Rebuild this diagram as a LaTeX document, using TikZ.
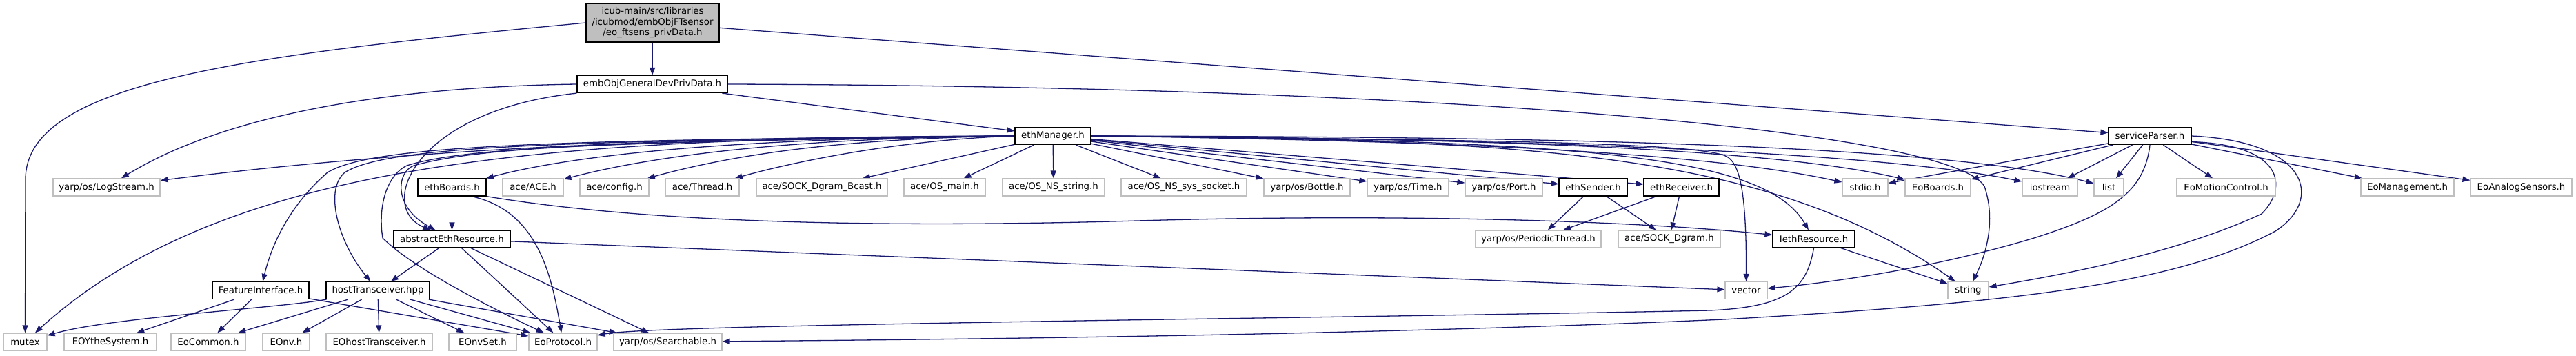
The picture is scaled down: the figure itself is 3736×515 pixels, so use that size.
\documentclass[tikz,border=0pt]{standalone}
\usepackage{fontspec}
\setmainfont{DejaVu Sans}
\usepackage{tikz}
\usetikzlibrary{arrows.meta, backgrounds, calc}
\definecolor{edgeblue}{HTML}{191970}
\definecolor{boxgray}{HTML}{BFBFBF}
\tikzstyle{ext}=[draw=boxgray, fill=white, line width=1.2pt, minimum height=25pt, inner sep=0pt, font=\fontsize{13.3}{15.5}\selectfont]
\tikzstyle{doc}=[ext, draw=black]
\tikzstyle{dep}=[->, draw=edgeblue, line width=1.3pt]
\tikzset{>={Triangle[length=11pt, width=8pt]}}

\begin{document}
\begin{tikzpicture}[x=1pt, y=-1pt]
\useasboundingbox (0,0) rectangle (3736,515);
% the file itself and the headers it pulls in first
\node[doc, fill=boxgray, minimum width=193, minimum height=56, align=center] (root) at (946.5,33) {icub-main/src/libraries\\/icubmod/embObjFTsensor\\/eo\_ftsens\_privData.h};
\node[doc, minimum width=218] (gendata) at (946,122) {embObjGeneralDevPrivData.h};
\node[doc, minimum width=110] (ethmgr) at (1527,197) {ethManager.h};
\node[doc, minimum width=120] (svcparser) at (3118,197) {serviceParser.h};
% the long row of includes
\node[ext, minimum width=155] (logstream) at (154.5,271.5) {yarp/os/LogStream.h};
\node[doc, minimum width=99] (ethboards) at (655.5,271.5) {ethBoards.h};
\node[ext, minimum width=88] (aceace) at (773,271.5) {ace/ACE.h};
\node[ext, minimum width=100] (aceconfig) at (891,271.5) {ace/config.h};
\node[ext, minimum width=107] (acethread) at (1018.5,271.5) {ace/Thread.h};
\node[ext, minimum width=190] (acebcast) at (1192,271.5) {ace/SOCK\_Dgram\_Bcast.h};
\node[ext, minimum width=118] (aceosmain) at (1370,271.5) {ace/OS\_main.h};
\node[ext, minimum width=148] (aceosstr) at (1528,271.5) {ace/OS\_NS\_string.h};
\node[ext, minimum width=182] (aceossock) at (1717,271.5) {ace/OS\_NS\_sys\_socket.h};
\node[ext, minimum width=125] (yarpbottle) at (1895.5,271.5) {yarp/os/Bottle.h};
\node[ext, minimum width=118] (yarptime) at (2042,271.5) {yarp/os/Time.h};
\node[ext, minimum width=112] (yarpport) at (2181,271.5) {yarp/os/Port.h};
\node[doc, minimum width=99] (ethsender) at (2310.5,271.5) {ethSender.h};
\node[doc, minimum width=109] (ethrecv) at (2438.5,271.5) {ethReceiver.h};
\node[ext, minimum width=66] (stdio) at (2705,271.5) {stdio.h};
\node[ext, minimum width=95] (eoboards) at (2810.5,271.5) {EoBoards.h};
\node[ext, minimum width=80] (iostream) at (2973,271.5) {iostream};
\node[ext, minimum width=43] (list) at (3058.5,271.5) {list};
\node[ext, minimum width=143] (eomotion) at (3228.5,271.5) {EoMotionControl.h};
\node[ext, minimum width=135] (eomgmt) at (3491.5,271.5) {EoManagement.h};
\node[ext, minimum width=147] (eoanalog) at (3656.5,271.5) {EoAnalogSensors.h};
% third row
\node[doc, minimum width=169] (abstract) at (655.5,346.5) {abstractEthResource.h};
\node[ext, minimum width=182] (periodic) at (2231,346.5) {yarp/os/PeriodicThread.h};
\node[ext, minimum width=148] (sockdgram) at (2421,346.5) {ace/SOCK\_Dgram.h};
\node[doc, minimum width=119] (iethres) at (2630.5,346.5) {IethResource.h};
% fourth row
\node[doc, minimum width=140] (featiface) at (378,421) {FeatureInterface.h};
\node[doc, minimum width=150] (hosttrx) at (548,421) {hostTransceiver.hpp};
\node[ext, minimum width=61] (vector) at (2532.5,421) {vector};
\node[ext, minimum width=59] (string) at (2854.5,421) {string};
% bottom row
\node[ext, minimum width=63] (mutex) at (36.5,495.5) {mutex};
\node[ext, minimum width=134] (eoythe) at (160,495.5) {EOYtheSystem.h};
\node[ext, minimum width=108] (eocommon) at (302,495.5) {EoCommon.h};
\node[ext, minimum width=68] (eonv) at (415,495.5) {EOnv.h};
\node[ext, minimum width=154] (eohost) at (550,495.5) {EOhostTransceiver.h};
\node[ext, minimum width=98] (eonvset) at (700,495.5) {EOnvSet.h};
\node[ext, minimum width=99] (eoproto) at (816.5,495.5) {EoProtocol.h};
\node[ext, minimum width=157] (searchable) at (968.5,495.5) {yarp/os/Searchable.h};
\begin{scope}[on background layer]
% the file itself
\draw[dep] (root) -- (gendata);
\draw[dep] (root.west) .. controls (350,80) and (37,120) .. (37,260) -- (mutex);
\draw[dep] (root) -- (svcparser);
% embObjGeneralDevPrivData.h
\draw[dep] (gendata) -- (ethmgr);
\draw[dep] (gendata.west) .. controls (550,126) and (320,170) .. (logstream);
\draw[dep] (gendata.south west) .. controls (600,160) and (545,300) .. (abstract);
\draw[dep] (gendata.east) .. controls (2100,125) and (2830,190) .. (2878,270) .. controls (2895,320) and (2880,370) .. (string);
% ethManager.h, to the left
\draw[dep] (ethmgr.west) .. controls (1000,198) and (600,215) .. (logstream);
\draw[dep] (ethmgr.west) .. controls (800,200) and (330,230) .. (mutex);
\draw[dep] (ethmgr.west) .. controls (800,203) and (540,210) .. (475,250) .. controls (440,280) and (400,330) .. (featiface);
\draw[dep] (ethmgr.west) .. controls (800,204) and (560,212) .. (500,250) .. controls (470,275) and (490,350) .. (hosttrx);
\draw[dep] (ethmgr.west) .. controls (900,205) and (700,212) .. (600,240) .. controls (575,250) and (570,300) .. (abstract);
\draw[dep] (ethmgr.west) .. controls (900,206) and (680,212) .. (590,240) .. controls (560,255) and (548,300) .. (555,345) .. controls (600,390) and (720,450) .. (eoproto);
\draw[dep] (ethmgr.west) .. controls (1100,200) and (850,220) .. (ethboards);
\draw[dep] (ethmgr.west) .. controls (1150,200) and (950,225) .. (aceace);
\draw[dep] (ethmgr.west) .. controls (1200,201) and (1050,228) .. (aceconfig);
\draw[dep] (ethmgr.west) .. controls (1300,203) and (1150,235) .. (acethread);
% ethManager.h, straight down
\draw[dep] (ethmgr) -- (acebcast);
\draw[dep] (ethmgr) -- (aceosmain);
\draw[dep] (ethmgr) -- (aceosstr);
\draw[dep] (ethmgr) -- (aceossock);
\draw[dep] (ethmgr) -- (yarpbottle);
\draw[dep] (ethmgr) -- (yarptime);
\draw[dep] (ethmgr) -- (yarpport);
\draw[dep] (ethmgr) -- (ethsender);
\draw[dep] (ethmgr) -- (ethrecv);
% ethManager.h, to the right
\draw[dep] (ethmgr.east) .. controls (2000,203) and (2450,215) .. (stdio);
\draw[dep] (ethmgr.east) .. controls (2050,200) and (2550,210) .. (eoboards);
\draw[dep] (ethmgr.east) .. controls (2100,200) and (2700,215) .. (iostream);
\draw[dep] (ethmgr.east) .. controls (2150,198) and (2800,205) .. (list);
\draw[dep] (ethmgr.east) .. controls (2100,203) and (2440,205) .. (2500,225) .. controls (2522,232) and (2533,270) .. (vector);
\draw[dep] (ethmgr.east) .. controls (2300,203) and (2560,225) .. (iethres);
\draw[dep] (ethmgr.east) .. controls (2200,203) and (2560,215) .. (string);
% the other headers
\draw[dep] (ethboards) -- (abstract);
\draw[dep] (ethboards.-25) .. controls (780,305) and (800,400) .. (eoproto);
\draw[dep] (ethboards.south east) .. controls (950,325) and (1300,330) .. (1650,320) .. controls (2000,310) and (2350,318) .. (iethres);
\draw[dep] (abstract) -- (hosttrx);
\draw[dep] (abstract) -- (eoproto);
\draw[dep] (abstract) -- (searchable);
\draw[dep] (abstract) -- (vector);
\draw[dep] (ethsender) -- (periodic);
\draw[dep] (ethsender) -- (sockdgram);
\draw[dep] (ethrecv) -- (periodic);
\draw[dep] (ethrecv) -- (sockdgram);
\draw[dep] (iethres) -- (string);
\draw[dep] (iethres.south) .. controls (2620,420) and (2590,445) .. (2480,450) .. controls (1900,462) and (950,470) .. (eoproto);
\draw[dep] (featiface) -- (eoythe);
\draw[dep] (featiface) -- (eocommon);
\draw[dep] (featiface) -- (eoproto);
\draw[dep] (hosttrx) .. controls (400,447) and (160,460) .. (mutex);
\draw[dep] (hosttrx) -- (eocommon);
\draw[dep] (hosttrx) -- (eonv);
\draw[dep] (hosttrx) -- (eohost);
\draw[dep] (hosttrx) -- (eonvset);
\draw[dep] (hosttrx) -- (eoproto);
\draw[dep] (hosttrx) -- (searchable);
% serviceParser.h
\draw[dep] (svcparser) -- (stdio);
\draw[dep] (svcparser) -- (eoboards);
\draw[dep] (svcparser) -- (iostream);
\draw[dep] (svcparser) -- (list);
\draw[dep] (svcparser) -- (eomotion);
\draw[dep] (svcparser) -- (eomgmt);
\draw[dep] (svcparser) -- (eoanalog);
\draw[dep] (svcparser.south) .. controls (3110,280) and (3060,310) .. (2950,345) .. controls (2800,390) and (2650,410) .. (vector);
\draw[dep] (svcparser.-8) .. controls (3310,210) and (3320,270) .. (3280,310) .. controls (3150,370) and (2980,400) .. (string);
\draw[dep] (svcparser.east) .. controls (3350,205) and (3370,290) .. (3300,335) .. controls (3150,415) and (2900,440) .. (2500,463) .. controls (2000,485) and (1400,492) .. (searchable);
\end{scope}
\end{tikzpicture}
\end{document}
